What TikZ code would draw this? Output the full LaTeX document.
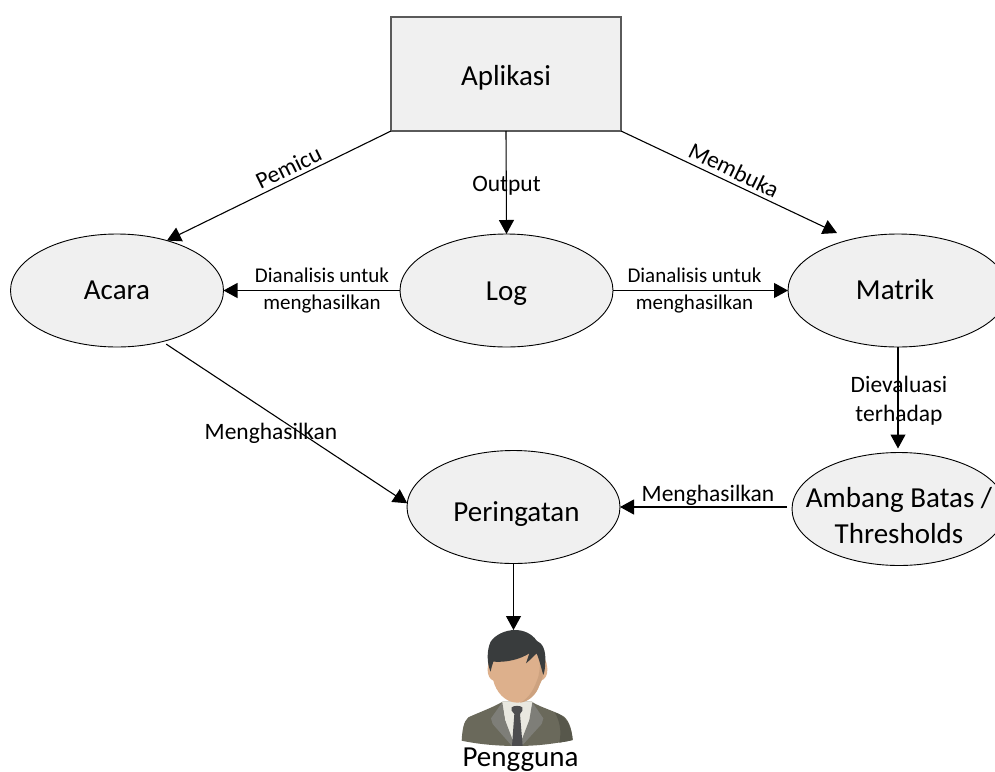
\documentclass[tikz,border=0pt]{standalone}
\usepackage{fontspec}
\setmainfont{Carlito}
\usetikzlibrary{shapes.geometric,arrows.meta}
\definecolor{fillgrey}{HTML}{F0F0F0}
\definecolor{boxedge}{HTML}{5A5A5A}
\definecolor{skin}{HTML}{DDB08C}
\definecolor{skindark}{HTML}{CDA27F}
\definecolor{hair}{HTML}{393C3D}
\definecolor{suit}{HTML}{6A695B}
\definecolor{suitdark}{HTML}{57574B}
\definecolor{lapel}{HTML}{7E7E78}
\definecolor{shirt}{HTML}{E9E8E0}
\definecolor{tie}{HTML}{4D4D4F}
\newcommand{\lowered}[2]{\raisebox{-#1pt}[0pt][0pt]{#2}}
\tikzset{
  blob/.style={ellipse,draw=black,fill=fillgrey,line width=0.9pt,inner sep=0pt,outer sep=0pt,minimum width=213pt,minimum height=113pt,font=\fontsize{29}{36}\selectfont,align=center},
  boxnode/.style={rectangle,draw=boxedge,fill=fillgrey,line width=1.1pt,inner sep=0pt,outer sep=0pt,minimum width=230pt,minimum height=114pt,font=\fontsize{29}{36}\selectfont},
  arrowline/.style={draw=black,line width=1.1pt,-{Triangle[length=14pt,width=15pt]}},
  lab/.style={inner sep=0pt,font=\fontsize{23.5}{29}\selectfont,align=center},
  smalllab/.style={inner sep=0pt,font=\fontsize{21}{27}\selectfont,align=center}
}
\begin{document}
\begin{tikzpicture}[x=1pt,y=-1pt]
\useasboundingbox (0,0) rectangle (995,771);
\clip (0,0) rectangle (995,771);
\node[boxnode] (app) at (506,74) {\lowered{11}{Aplikasi}};
\node[blob] (acara) at (117,290.5) {\lowered{9}{Acara}};
\node[blob] (log) at (506.5,290.5) {\lowered{10}{Log}};
\node[blob,minimum width=220pt] (matrik) at (898,290.5) {\lowered{9}{\hspace*{-6pt}Matrik}};
\node[blob] (alert) at (513.5,507) {\lowered{14}{\hspace*{6pt}Peringatan}};
\node[blob,minimum width=214pt] (thr) at (899,509) {\lowered{16}{\makebox[100pt]{Ambang Batas /}}\\[0pt]\lowered{16}{\makebox[100pt]{Thresholds}}};
\coordinate (user) at (513.5,630);
\draw[arrowline] (app.south west) -- (acara.45);
\draw[arrowline] (app.south) -- (log.north);
\draw[arrowline] (app.south east) -- ([xshift=-61pt,yshift=1pt]matrik.north);
\draw[arrowline] (log.west) -- (acara.east);
\draw[arrowline] (log.east) -- (matrik.west);
\draw[arrowline,shorten >=4pt] (matrik.south) -- (matrik.south |- thr.north);
\draw[arrowline] ([xshift=-5pt]thr.west |- alert.east) -- (alert.east);
\draw[arrowline] ([xshift=2pt,yshift=-3pt]acara.-47) -- (alert.178);
\draw[arrowline] (alert.south) -- (user);
\node[lab,rotate=26] (t1) at (288.5,167.5) {Pemicu};
\node[lab] (t2) at (506.5,186) {Output};
\node[lab,rotate=-26] at (734,170) (t3) {Membuka};
\node[smalllab] (t4) at (322,291) {Dianalisis untuk\\menghasilkan};
\node[smalllab] (t5) at (694.5,291) {Dianalisis untuk\\menghasilkan};
\node[lab] (t6) at (899,401) {Dievaluasi\\terhadap};
\node[lab] (t7) at (271,433) {Menghasilkan};
\node[lab] (t8) at (708,495) {Menghasilkan};
\begin{scope}[shift={(440,620)},x=0.3333pt,y=-0.3333pt]
 % shoulders
 \fill[suit] (65,362) .. controls (67,330) and (70,305) .. (85,292) .. controls (110,280) and (160,262) .. (188,245) -- (275,245) .. controls (300,262) and (350,275) .. (372,290) .. controls (390,305) and (396,335) .. (398,360) .. controls (340,372) and (290,378) .. (230,378) .. controls (170,378) and (110,372) .. (65,362) -- cycle;
 \fill[suitdark] (345,278) .. controls (372,285) and (394,310) .. (398,360) .. controls (385,364) and (370,366) .. (358,368) .. controls (365,335) and (360,305) .. (345,278) -- cycle;
 % shirt
 \fill[shirt] (185,245) -- (278,245) -- (272,300) -- (245,378) -- (218,378) -- (195,300) -- cycle;
 % lapels
 \fill[lapel] (187,247) -- (153,295) -- (158,312) -- (216,378) -- (225,378) -- (195,300) -- cycle;
 \fill[lapel] (277,247) -- (310,295) -- (305,312) -- (245,378) -- (238,378) -- (268,300) -- cycle;
 % tie
 \fill[tie] (215,262) .. controls (222,256) and (240,256) .. (247,262) -- (247,272) -- (240,282) -- (248,378) -- (216,378) -- (223,282) -- (215,272) -- cycle;
 % face
 \fill[skin] (143,145) .. controls (141,165) and (150,178) .. (160,182) .. controls (168,215) and (195,248) .. (232,248) .. controls (270,248) and (295,215) .. (303,182) .. controls (315,178) and (324,165) .. (322,145) .. controls (320,100) and (280,70) .. (232,70) .. controls (185,70) and (145,100) .. (143,145) -- cycle;
 \fill[skindark] (300,120) -- (310,150) .. controls (310,180) and (300,190) .. (298,195) .. controls (290,225) and (265,245) .. (240,248) .. controls (270,235) and (285,200) .. (295,170) .. controls (300,150) and (300,130) .. (300,120) -- cycle;
 % hair
 \fill[hair] (152,155) .. controls (140,130) and (140,90) .. (152,65) .. controls (165,45) and (195,30) .. (225,30) .. controls (250,30) and (275,40) .. (290,62) .. controls (310,70) and (317,95) .. (316,120) .. controls (316,140) and (314,155) .. (310,165) .. controls (305,150) and (300,125) .. (290,100) .. controls (280,110) and (270,120) .. (258,130) .. controls (262,118) and (265,110) .. (268,100) .. controls (240,118) and (200,128) .. (160,125) .. controls (156,135) and (154,145) .. (152,155) -- cycle;
\end{scope}
\node[inner sep=0pt,font=\fontsize{29}{36}\selectfont] (ulabel) at (520.5,760) {Pengguna};
\end{tikzpicture}
\end{document}
